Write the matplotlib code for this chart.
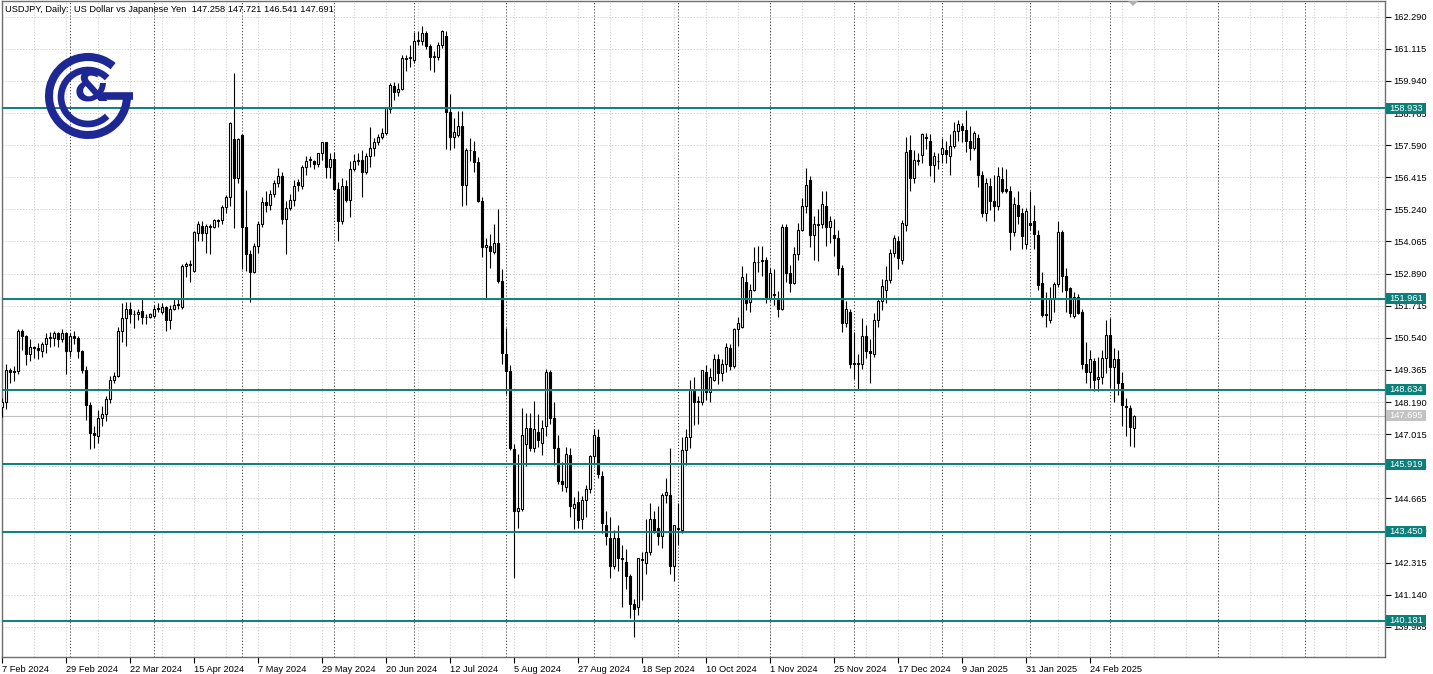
import numpy as np
import pandas as pd
import matplotlib
matplotlib.use('Agg')
import matplotlib.pyplot as plt
from matplotlib import transforms
from matplotlib.patches import Rectangle, Arc, Polygon

# USDJPY daily, 7 Feb 2024 - 11 Mar 2025 (broker has no bar on 1 Jan)
dates = pd.bdate_range('2024-02-07', '2025-03-11')
dates = dates[dates != pd.Timestamp('2025-01-01')]

opens = [148.00, 148.20, 149.35, 149.30, 149.32, 150.80, 150.60, 149.95, 150.20, 150.15,
         150.05, 150.30, 150.55, 150.55, 150.70, 150.50, 150.70, 150.05, 150.60, 150.55,
         150.05, 149.36, 148.08, 147.05, 146.95, 147.62, 147.74, 148.30, 149.00, 149.15,
         150.80, 151.25, 151.60, 151.42, 151.42, 151.52, 151.30, 151.30, 151.35, 151.60,
         151.48, 151.67, 151.20, 151.60, 151.75, 151.67, 153.15, 153.24, 153.00, 154.36,
         154.63, 154.36, 154.60, 154.60, 154.85, 154.85, 155.34, 155.70, 157.80, 156.40,
         157.95, 154.60, 153.60, 152.95, 153.90, 154.70, 155.50, 155.40, 155.80, 156.20,
         156.45, 154.90, 155.30, 155.60, 156.25, 156.10, 156.80, 157.05, 157.00, 156.90,
         157.30, 157.70, 156.80, 157.10, 156.00, 154.80, 156.10, 155.60, 156.70, 157.00,
         157.05, 156.60, 157.20, 157.50, 157.70, 157.90, 158.05, 158.90, 159.75, 159.55,
         159.63, 160.75, 160.78, 160.70, 161.40, 161.40, 161.70, 161.20, 160.80, 160.80,
         161.25, 161.60, 158.80, 157.90, 157.96, 158.30, 156.14, 157.40, 157.36, 156.97,
         155.56, 153.85, 153.90, 153.68, 154.00, 152.62, 149.95, 149.33, 146.47, 144.22,
         144.28, 146.65, 147.23, 146.50, 147.10, 146.70, 147.30, 149.28, 147.60, 146.50,
         145.30, 145.10, 146.25, 144.30, 144.53, 143.90, 144.60, 145.00, 146.20, 146.90,
         145.50, 143.70, 143.20, 142.20, 143.20, 142.45, 142.35, 141.83, 140.80, 140.70,
         142.45, 142.30, 142.70, 143.90, 143.60, 143.30, 144.80, 144.80, 142.20, 143.55,
         143.50, 146.45, 146.90, 148.63, 148.20, 148.20, 149.30, 148.55, 149.00, 149.75,
         149.25, 149.60, 150.15, 149.50, 150.85, 150.95, 152.60, 151.85, 152.30, 153.30,
         153.35, 153.40, 152.00, 152.15, 152.00, 151.60, 154.60, 152.90, 152.55, 153.60,
         154.50, 155.35, 156.30, 154.30, 154.70, 154.70, 155.35, 154.60, 154.30, 154.20,
         153.10, 151.10, 151.50, 149.60, 149.60, 149.60, 150.60, 150.05, 149.95, 151.20,
         151.90, 152.30, 152.65, 153.65, 154.10, 153.40, 154.67, 157.40, 156.40, 157.05,
         157.23, 157.85, 157.75, 156.86, 157.00, 157.25, 157.40, 157.20, 157.55, 158.10,
         158.30, 158.15, 157.75, 157.50, 157.84, 156.50, 155.10, 156.10, 155.55, 155.35,
         156.35, 155.98, 155.90, 154.40, 155.40, 155.10, 153.97, 154.75, 154.80, 154.30,
         152.56, 151.40, 151.20, 151.97, 152.50, 154.40, 152.80, 152.35, 151.35, 152.05,
         151.47, 149.60, 149.30, 149.70, 149.05, 149.10, 149.80, 150.65, 149.47, 149.75,
         148.88, 148.05, 147.97, 147.258]

highs = [148.35, 149.57, 149.45, 149.50, 150.88, 150.85, 150.65, 150.48, 150.25, 150.35,
         150.40, 150.70, 150.75, 150.80, 150.75, 150.85, 150.75, 150.70, 150.80, 150.60,
         150.10, 149.50, 148.20, 147.30, 147.90, 148.05, 148.40, 149.15, 149.30, 150.95,
         151.80, 151.85, 151.85, 151.55, 151.60, 151.97, 151.40, 151.45, 151.75, 151.80,
         151.80, 151.70, 151.75, 151.95, 151.95, 153.25, 153.30, 153.40, 154.45, 154.80,
         154.80, 154.70, 154.70, 154.88, 154.90, 155.40, 155.75, 158.45, 160.22, 157.85,
         158.00, 155.95, 153.75, 154.00, 154.80, 155.70, 155.90, 155.95, 156.30, 156.75,
         156.60, 155.55, 155.80, 156.30, 156.35, 156.85, 157.20, 157.20, 157.05, 157.25,
         157.70, 157.72, 157.30, 157.35, 156.25, 156.40, 156.30, 157.00, 157.25, 157.30,
         157.40, 157.30, 158.25, 157.85, 158.00, 158.20, 159.00, 159.85, 159.90, 159.85,
         160.87, 160.87, 161.27, 161.72, 161.75, 161.95, 161.75, 161.30, 161.05, 161.35,
         161.80, 161.78, 159.45, 158.60, 158.85, 158.85, 157.50, 157.85, 157.75, 157.15,
         155.70, 154.20, 154.35, 154.70, 155.25, 153.05, 150.90, 149.55, 146.65, 146.30,
         147.96, 147.80, 147.80, 148.24, 147.75, 147.55, 149.40, 149.35, 148.20, 147.00,
         146.00, 146.55, 146.50, 144.70, 144.95, 144.75, 145.15, 146.25, 147.20, 147.20,
         145.65, 144.20, 144.00, 143.50, 143.70, 142.95, 142.80, 141.90, 141.00, 142.45,
         142.70, 143.90, 144.50, 144.20, 144.40, 144.85, 145.40, 146.50, 143.70, 144.50,
         146.90, 147.20, 149.00, 149.10, 148.40, 149.35, 149.55, 149.45, 149.95, 149.95,
         149.75, 150.35, 150.30, 150.90, 151.30, 153.15, 152.90, 152.50, 153.85, 153.90,
         153.90, 153.50, 153.10, 153.05, 152.25, 154.70, 154.70, 153.20, 153.85, 154.75,
         155.65, 156.77, 156.45, 155.00, 155.25, 155.90, 155.90, 155.00, 154.90, 154.50,
         153.20, 151.90, 151.60, 150.75, 149.95, 151.25, 151.00, 150.50, 151.45, 152.00,
         152.70, 153.15, 153.80, 154.30, 154.25, 154.85, 157.90, 157.95, 157.40, 157.30,
         158.05, 158.05, 158.00, 157.35, 157.30, 157.85, 157.75, 158.00, 158.45, 158.50,
         158.40, 158.88, 158.30, 158.10, 158.00, 156.65, 156.40, 156.40, 156.50, 156.80,
         156.80, 156.70, 156.10, 155.70, 155.90, 155.30, 155.30, 155.90, 155.40, 154.50,
         152.95, 152.20, 152.40, 152.60, 154.80, 154.50, 153.10, 152.40, 152.20, 152.15,
         151.60, 150.40, 150.10, 149.80, 149.85, 150.10, 151.20, 151.25, 150.15, 150.10,
         149.30, 148.35, 148.10, 147.721]

lows = [147.63, 147.95, 148.90, 148.95, 149.20, 150.10, 149.55, 149.70, 149.80, 149.75,
        149.85, 150.00, 150.20, 150.25, 150.20, 150.40, 149.22, 149.85, 150.30, 149.80,
        149.25, 147.55, 146.48, 146.50, 146.70, 147.30, 147.50, 148.15, 148.90, 149.10,
        150.40, 150.25, 151.10, 150.90, 151.20, 151.05, 151.05, 151.25, 151.25, 151.50,
        151.40, 150.80, 150.85, 151.55, 151.60, 151.60, 152.75, 152.60, 152.95, 154.10,
        154.10, 153.64, 153.60, 154.55, 154.60, 154.70, 155.10, 155.35, 154.55, 156.20,
        153.05, 153.00, 151.86, 152.90, 153.65, 154.60, 155.15, 155.20, 155.70, 156.05,
        154.70, 153.60, 155.20, 155.35, 155.90, 156.00, 156.50, 156.80, 156.70, 156.80,
        157.05, 156.40, 156.40, 155.95, 154.10, 154.70, 155.50, 154.95, 156.65, 156.85,
        155.70, 156.55, 156.80, 157.20, 157.60, 157.80, 157.95, 158.75, 159.25, 159.40,
        159.60, 160.30, 160.45, 160.60, 161.25, 161.25, 161.10, 160.33, 160.25, 160.70,
        161.15, 157.45, 157.40, 157.50, 157.90, 155.35, 155.40, 157.00, 156.60, 155.50,
        153.50, 152.00, 153.10, 153.60, 152.55, 149.60, 148.50, 146.45, 141.76, 143.60,
        144.20, 145.85, 146.40, 146.35, 146.55, 146.25, 146.95, 147.40, 145.90, 145.20,
        144.95, 144.90, 144.00, 143.56, 143.60, 143.55, 144.00, 144.85, 145.90, 145.40,
        143.40, 142.95, 141.75, 142.10, 142.00, 140.70, 141.35, 140.30, 139.58, 140.40,
        140.95, 141.90, 142.60, 143.40, 142.95, 142.85, 144.50, 141.90, 141.65, 142.95,
        143.40, 145.90, 146.50, 147.35, 147.40, 148.10, 148.25, 148.20, 148.95, 148.85,
        148.95, 149.30, 149.35, 149.45, 150.25, 150.90, 151.55, 151.50, 152.25, 152.95,
        152.80, 151.80, 151.90, 151.75, 151.30, 151.55, 152.60, 152.20, 152.50, 153.40,
        154.45, 155.10, 153.85, 153.40, 153.34, 154.55, 153.90, 154.00, 153.55, 152.85,
        150.75, 150.95, 149.45, 149.05, 148.65, 149.40, 149.80, 148.90, 149.85, 150.95,
        151.55, 151.80, 152.55, 153.50, 153.05, 153.25, 154.45, 155.90, 156.20, 156.85,
        156.95, 157.45, 156.45, 156.25, 156.70, 156.95, 156.95, 156.50, 157.50, 157.75,
        157.70, 157.35, 157.05, 157.40, 156.05, 154.95, 154.80, 155.20, 154.80, 155.20,
        155.85, 155.85, 153.75, 154.25, 154.70, 153.80, 153.80, 154.50, 153.80, 152.30,
        151.30, 150.95, 151.10, 151.50, 152.40, 152.20, 151.50, 151.30, 151.25, 151.40,
        149.40, 148.90, 148.70, 148.60, 148.60, 148.85, 149.25, 148.70, 148.20, 148.45,
        147.30, 146.95, 146.60, 146.541]

closes = [148.20, 149.35, 149.30, 149.32, 150.80, 150.60, 149.95, 150.20, 150.15, 150.10,
          150.30, 150.55, 150.55, 150.70, 150.50, 150.70, 150.05, 150.60, 150.55, 150.05,
          149.36, 148.08, 147.05, 147.00, 147.62, 147.74, 148.30, 149.00, 149.15, 150.80,
          151.25, 151.60, 151.42, 151.40, 151.50, 151.30, 151.32, 151.40, 151.60, 151.60,
          151.67, 151.20, 151.60, 151.75, 151.76, 153.15, 153.24, 153.22, 154.42, 154.70,
          154.36, 154.63, 154.62, 154.85, 154.83, 155.34, 155.70, 158.39, 156.40, 157.80,
          154.60, 153.60, 152.95, 153.90, 154.70, 155.50, 155.40, 155.80, 156.20, 156.45,
          154.90, 155.30, 155.60, 156.10, 156.15, 156.80, 157.00, 157.10, 156.90, 157.30,
          157.70, 156.80, 157.10, 156.00, 154.80, 156.10, 155.60, 156.70, 157.00, 157.05,
          156.60, 157.20, 157.50, 157.70, 157.90, 158.05, 158.95, 159.80, 159.55, 159.65,
          160.77, 160.78, 160.80, 161.40, 161.42, 161.70, 161.20, 160.80, 160.85, 161.25,
          161.75, 158.80, 157.90, 158.07, 158.30, 156.14, 157.40, 157.42, 156.97, 155.56,
          153.85, 153.92, 153.70, 154.00, 152.62, 149.98, 149.33, 146.50, 144.22, 144.30,
          147.00, 147.23, 146.50, 147.20, 146.80, 147.25, 149.28, 147.60, 146.50, 145.30,
          145.20, 146.30, 144.40, 144.45, 143.88, 144.60, 145.00, 146.20, 147.00, 145.55,
          143.75, 143.30, 142.20, 143.20, 142.50, 142.45, 141.83, 140.80, 140.60, 142.50,
          142.40, 142.70, 143.90, 143.45, 143.30, 144.80, 144.90, 142.20, 143.70, 143.60,
          146.45, 146.90, 148.63, 148.20, 148.22, 149.35, 148.55, 149.10, 149.75, 149.25,
          149.60, 150.20, 149.50, 150.85, 151.10, 152.76, 151.80, 152.30, 153.30, 153.32,
          153.40, 152.00, 152.90, 152.10, 151.60, 154.60, 152.90, 152.55, 153.60, 154.50,
          155.35, 156.15, 154.30, 154.70, 154.68, 155.45, 154.60, 154.80, 154.20, 153.10,
          151.10, 151.60, 149.60, 149.62, 149.62, 150.60, 150.05, 150.00, 151.20, 151.90,
          152.45, 152.65, 153.65, 154.20, 153.45, 154.75, 157.35, 156.40, 157.05, 157.00,
          158.00, 157.87, 156.86, 157.20, 157.02, 157.50, 157.25, 157.55, 158.10, 158.35,
          158.15, 157.75, 157.50, 158.05, 156.50, 155.10, 156.20, 155.55, 155.35, 156.45,
          155.90, 155.93, 154.40, 155.45, 155.00, 154.25, 155.17, 154.65, 154.35, 152.47,
          151.37, 151.37, 151.97, 152.50, 154.40, 152.80, 152.30, 151.45, 152.05, 151.45,
          149.60, 149.30, 149.75, 149.00, 149.10, 149.80, 150.65, 149.47, 149.75, 148.87,
          148.08, 148.00, 147.29, 147.691]

# horizontal levels drawn on the chart
levels = [158.933, 151.961, 148.634, 145.919, 143.450, 140.181]
bid = 147.695
price_ticks = [162.290 - 1.175 * k for k in range(20)]
label_bars = list(range(0, 273, 16))
month_bars = [17, 38, 60, 83, 103, 126, 148, 169, 192, 213, 235, 257, 277, 304, 325.75]
header = 'USDJPY, Daily:  US Dollar vs Japanese Yen  147.258 147.721 146.541 147.691'

W, H = 1433, 674
teal = '#0b7f79'
navy = '#1e2894'
fs = 6.7

plt.rcParams['font.family'] = ['Liberation Sans', 'DejaVu Sans']

fig = plt.figure(figsize=(W / 100, H / 100), dpi=100)
fig.patch.set_facecolor('white')
ax = fig.add_axes([2 / W, (H - 657) / H, (1385 - 2) / W, (657 - 1) / H])
ax.set_xlim(0, 345.75)
ax.set_ylim(138.862, 162.864)

# grid
for p in price_ticks:
    ax.axhline(p, color='#c8c8c8', lw=0.6, ls=(0, (1.5, 2)), zorder=1)
for b in range(0, 346, 8):
    ax.axvline(b, color='#c8c8c8', lw=0.6, ls=(0, (1.5, 2)), zorder=1)
for b in month_bars:
    ax.axvline(b, color='#404040', lw=0.7, ls=(0, (1.2, 2)), zorder=1)

# candles
o = np.array(opens)
hi = np.array(highs)
lo = np.array(lows)
c = np.array(closes)
idx = np.arange(len(c))
up = c >= o
ax.vlines(idx, lo, hi, color='black', lw=0.8, zorder=3)
body = np.maximum(np.abs(c - o), 0.02)
ax.bar(idx[up], body[up], bottom=o[up], width=0.62, color='white',
       edgecolor='black', lw=0.8, zorder=4)
ax.bar(idx[~up], body[~up], bottom=c[~up], width=0.62, color='black',
       edgecolor='black', lw=0.8, zorder=4)

# levels and bid line
ax.axhline(bid, color='#c0c0c0', lw=0.8, zorder=2)
for lv in levels:
    ax.axhline(lv, color=teal, lw=1.4, zorder=5)

# axes look
for s in ax.spines.values():
    s.set_color('#6e6e6e')
    s.set_linewidth(1.0)
ax.yaxis.tick_right()
ax.set_yticks(price_ticks)
ax.set_yticklabels([f'{p:.3f}' for p in price_ticks])
ax.set_xticks(label_bars)
ax.set_xticklabels([f'{dates[b].day} {dates[b].strftime("%b %Y")}' for b in label_bars])
ax.tick_params(axis='y', length=4, width=0.8, pad=2, labelsize=fs, colors='black')
ax.tick_params(axis='x', length=4, width=0.8, pad=1.5, labelsize=fs, colors='black')
for t in ax.get_xticklabels():
    t.set_ha('left')

# price boxes on the right scale
blend = transforms.blended_transform_factory(fig.transFigure, ax.transData)
box_h = 11 / 27.33
for lv in levels:
    fig.add_artist(Rectangle((1386 / W, lv - box_h / 2), 40 / W, box_h, transform=blend,
                             facecolor=teal, edgecolor='none', zorder=5))
    fig.text(1389 / W, lv, f'{lv:.3f}', transform=blend, color='white', fontsize=fs,
             va='center', ha='left', zorder=6)
fig.add_artist(Rectangle((1386 / W, bid - box_h / 2), 40 / W, box_h, transform=blend,
                         facecolor='#c3c3c3', edgecolor='none', zorder=5))
fig.text(1389 / W, bid, f'{bid:.3f}', transform=blend, color='white', fontsize=fs,
         va='center', ha='left', zorder=6)

# header and chart shift marker
fig.text(5 / W, 1 - 9 / H, header, fontsize=fs, va='center', ha='left')
fig.add_artist(Polygon([(1128 / W, 1 - 1 / H), (1138 / W, 1 - 1 / H), (1133 / W, 1 - 6 / H)],
                       closed=True, transform=fig.transFigure, facecolor='#b0b0b0',
                       edgecolor='none', zorder=6))

# logo (pixel units, y up, centre of rings at 0,0)
lg = fig.add_axes([40 / W, 1 - 142 / H, 100 / W, 92 / H])
lg.set_xlim(-48, 52)
lg.set_ylim(-46, 46)
lg.axis('off')
lg.patch.set_alpha(0)
lg.add_patch(Arc((0, 0), 78, 78, theta1=50, theta2=360, color=navy, lw=5.8))
lg.plot([13, 45], [0, 0], color=navy, lw=5.5, solid_capstyle='butt')
lg.add_patch(Arc((0, -1), 54, 54, theta1=45, theta2=315, color=navy, lw=4.8))
lg.text(3, 5, '&', fontsize=29, fontweight='bold', color=navy, ha='center', va='center',
        family='DejaVu Sans')

fig.savefig('out.png', dpi=100, facecolor='white')
